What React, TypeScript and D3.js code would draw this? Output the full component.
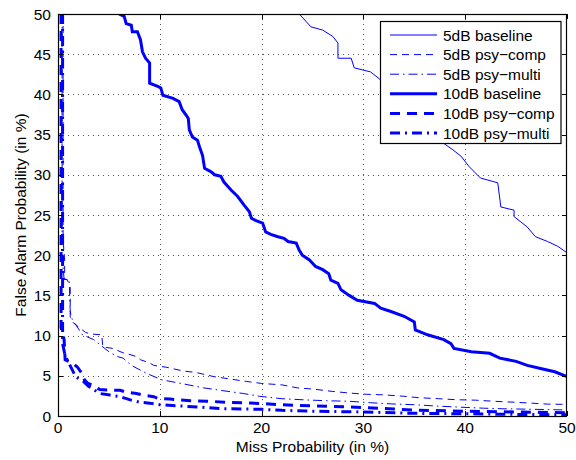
import React from "react";
import * as d3 from "d3";

// Axis ticks
const xTicks = [0, 10, 20, 30, 40, 50];
const yTicks = [0, 5, 10, 15, 20, 25, 30, 35, 40, 45, 50];

// 5dB baseline (miss %, false alarm %)
const base5Miss = [23.7, 24.85, 26.0, 27.0, 27.5, 27.5, 28.8, 29.1, 30.7, 32.0, 33.5, 35.0, 36.5, 37.9, 38.8, 39.6, 40.4, 41.5, 43.2, 43.5, 44.8, 44.8, 46.1, 46.9, 48.1, 49.1, 50.0];
const base5FA = [50.0, 48.4, 48.0, 47.2, 46.4, 44.5, 44.5, 43.3, 42.8, 41.5, 39.5, 37.5, 35.5, 33.9, 33.1, 32.3, 31.0, 29.6, 29.0, 26.0, 25.6, 24.8, 23.5, 22.3, 21.7, 21.1, 20.3];

// 5dB psy-comp
const comp5Miss = [0.5, 0.5, 0.65, 0.65, 0.9, 1.2, 1.2, 1.5, 2.2, 2.7, 3.2, 4.3, 4.4, 5.4, 6.3, 6.9, 7.7, 8.1, 9.0, 9.4, 10.7, 12.3, 13.6, 15.3, 16.9, 18.5, 20.0, 22.0, 23.5, 25.2, 27.0, 28.7, 30.3, 32.0, 34.0, 35.5, 37.4, 39.2, 41.0, 43.0, 44.7, 46.5, 48.2, 50.0];
const comp5FA = [50.0, 22.0, 19.4, 17.0, 17.0, 16.0, 12.3, 11.6, 10.9, 10.4, 10.2, 10.1, 8.6, 8.4, 7.9, 7.7, 7.4, 7.0, 6.6, 6.3, 6.05, 5.6, 5.4, 4.9, 4.6, 4.3, 4.05, 3.87, 3.5, 3.33, 3.05, 2.85, 2.7, 2.63, 2.45, 2.27, 2.15, 2.02, 1.97, 1.82, 1.72, 1.6, 1.47, 1.45];

// 5dB psy-multi
const multi5Miss = [0.4, 0.4, 0.6, 1.1, 1.2, 1.4, 2.4, 3.5, 4.2, 5.0, 5.8, 6.4, 7.2, 8.7, 10.2, 12.3, 14.3, 16.2, 18.2, 19.8, 22.0, 24.3, 26.4, 28.6, 30.7, 32.8, 35.0, 37.0, 39.5, 41.8, 43.7, 46.0, 48.0, 50.0];
const multi5FA = [50.0, 20.0, 17.0, 16.9, 13.0, 12.0, 10.1, 9.5, 8.8, 8.0, 7.4, 7.2, 6.3, 5.3, 4.5, 4.0, 3.5, 3.15, 2.8, 2.45, 2.15, 2.0, 1.9, 1.83, 1.65, 1.5, 1.4, 1.25, 1.1, 0.97, 0.9, 0.85, 0.8, 0.75];

// 10dB baseline
const base10Miss = [6.0, 6.5, 6.7, 7.2, 7.3, 7.8, 8.1, 8.3, 8.6, 9.0, 9.0, 9.8, 10.1, 10.3, 11.3, 11.9, 12.2, 12.6, 12.8, 12.9, 13.2, 13.7, 13.9, 14.2, 14.4, 15.0, 15.4, 16.0, 16.3, 17.0, 17.65, 18.3, 18.8, 19.0, 19.45, 20.1, 20.4, 20.9, 21.6, 22.2, 22.6, 23.4, 23.7, 24.0, 24.7, 25.3, 26.0, 26.6, 26.8, 27.5, 27.8, 28.6, 29.4, 31.1, 31.7, 32.7, 34.0, 35.0, 35.1, 36.3, 37.9, 38.6, 38.9, 40.6, 42.4, 43.4, 45.0, 46.1, 47.4, 48.8, 50.0];
const base10FA = [50.0, 49.7, 48.8, 48.6, 47.8, 47.8, 46.8, 45.3, 44.5, 43.9, 41.4, 41.0, 40.8, 39.9, 39.5, 39.1, 38.1, 37.4, 37.0, 35.6, 34.7, 34.3, 33.5, 32.4, 30.8, 30.4, 30.0, 29.8, 29.1, 28.1, 27.3, 26.2, 25.4, 24.6, 24.3, 24.0, 22.9, 22.6, 22.3, 22.1, 21.7, 21.5, 20.6, 20.0, 19.4, 18.6, 18.2, 17.7, 16.9, 16.5, 15.7, 15.0, 14.4, 14.0, 13.4, 13.0, 12.4, 11.7, 10.7, 10.1, 9.5, 9.0, 8.4, 8.0, 7.8, 7.2, 6.8, 6.3, 5.9, 5.5, 4.9];

// 10dB psy-comp
const comp10Miss = [0.3, 0.3, 0.6, 0.7, 1.4, 1.9, 2.4, 2.6, 2.9, 3.6, 4.1, 5.3, 6.1, 6.6, 7.7, 8.4, 9.4, 9.8, 11.0, 13.0, 14.6, 16.6, 18.2, 20.0, 22.0, 25.0, 28.0, 30.0, 33.0, 35.0, 40.0, 45.0, 50.0];
const comp10FA = [50.0, 11.0, 9.5, 7.0, 6.6, 6.1, 5.2, 4.5, 4.1, 3.7, 3.3, 3.2, 3.2, 3.0, 2.8, 2.6, 2.4, 2.2, 2.1, 1.9, 1.85, 1.7, 1.65, 1.55, 1.4, 1.25, 1.15, 1.05, 0.87, 0.72, 0.6, 0.5, 0.4];

// 10dB psy-multi
const multi10Miss = [0.45, 0.45, 0.7, 1.5, 1.7, 2.5, 3.0, 4.1, 5.1, 6.1, 7.1, 8.1, 9.0, 10.0, 12.0, 14.0, 16.2, 18.5, 20.0, 22.0, 25.0, 30.0, 33.0, 35.0, 40.0, 45.0, 50.0];
const multi10FA = [50.0, 9.0, 7.5, 5.5, 4.9, 4.3, 3.7, 2.8, 2.6, 2.4, 2.0, 1.7, 1.6, 1.4, 1.25, 1.1, 0.9, 0.87, 0.83, 0.7, 0.6, 0.5, 0.41, 0.33, 0.28, 0.2, 0.15];

const seriesLabels = ["5dB baseline", "5dB psy\u2212comp", "5dB psy\u2212multi", "10dB baseline", "10dB psy\u2212comp", "10dB psy\u2212multi"];

type Style = { width: number; dash: string };
const styles: Style[] = [
  { width: 1, dash: "" },
  { width: 1, dash: "7,5" },
  { width: 1, dash: "9,4,1.5,4" },
  { width: 3, dash: "" },
  { width: 3, dash: "10,7" },
  { width: 3, dash: "10,5,2,5" },
];

const seriesData: [number[], number[]][] = [
  [base5Miss, base5FA],
  [comp5Miss, comp5FA],
  [multi5Miss, multi5FA],
  [base10Miss, base10FA],
  [comp10Miss, comp10FA],
  [multi10Miss, multi10FA],
];

const W = 576;
const H = 460;
const left = 58;
const right = 567;
const top = 14;
const bottom = 416;
const font = "'Liberation Sans', Arial, Helvetica, sans-serif";
const fs = 15.5;
const blue = "#0000ff";

export default function App() {
  const x = d3.scaleLinear().domain([0, 50]).range([left, right]);
  const y = d3.scaleLinear().domain([0, 50]).range([bottom, top]);
  const line = d3
    .line<[number, number]>()
    .x((d) => x(d[0]))
    .y((d) => y(d[1]));

  const legX = 380.5;
  const legY = 21.5;
  const legW = 180.5;
  const legH = 122;
  const rowH = 19.6;

  return (
    <svg width={W} height={H} style={{ position: "absolute", left: 0, top: 0 }} fontFamily={font}>
      <rect x={0} y={0} width={W} height={H} fill="#fff" />
      <defs>
        <clipPath id="plotClip">
          <rect x={left} y={top} width={right - left} height={bottom - top} />
        </clipPath>
      </defs>

      {/* dotted grid */}
      <g stroke="#555" strokeWidth={1} strokeDasharray="1,4">
        {xTicks.slice(1, -1).map((t) => (
          <line key={"gx" + t} x1={Math.round(x(t)) + 0.5} x2={Math.round(x(t)) + 0.5} y1={top} y2={bottom} />
        ))}
        {yTicks.slice(1, -1).map((t) => (
          <line key={"gy" + t} x1={left} x2={right} y1={Math.round(y(t)) + 0.5} y2={Math.round(y(t)) + 0.5} />
        ))}
      </g>

      {/* curves */}
      <g clipPath="url(#plotClip)" fill="none" stroke={blue} strokeLinejoin="miter">
        {seriesData.map(([m, f], i) => (
          <path
            key={"s" + i}
            d={line(m.map((v, k) => [v, f[k]] as [number, number])) || ""}
            strokeWidth={styles[i].width}
            strokeDasharray={styles[i].dash || undefined}
          />
        ))}
      </g>

      {/* inward ticks on all four sides */}
      <g stroke="#000" strokeWidth={1}>
        {xTicks.map((t) => {
          const px = Math.round(x(t)) + 0.5;
          return (
            <g key={"tx" + t}>
              <line x1={px} x2={px} y1={bottom} y2={bottom - 5} />
              <line x1={px} x2={px} y1={top} y2={top + 5} />
            </g>
          );
        })}
        {yTicks.map((t) => {
          const py = Math.round(y(t)) + 0.5;
          return (
            <g key={"ty" + t}>
              <line x1={left} x2={left + 5} y1={py} y2={py} />
              <line x1={right} x2={right - 5} y1={py} y2={py} />
            </g>
          );
        })}
      </g>

      {/* axes box */}
      <rect x={left + 0.5} y={top + 0.5} width={right - left - 1} height={bottom - top} fill="none" stroke="#000" strokeWidth={1.2} />

      {/* tick labels */}
      <g fontSize={fs} fill="#000">
        {xTicks.map((t) => (
          <text key={"lx" + t} x={x(t)} y={433} textAnchor="middle">
            {t}
          </text>
        ))}
        {yTicks.map((t) => (
          <text key={"ly" + t} x={51} y={y(t) + 5.5} textAnchor="end">
            {t}
          </text>
        ))}
      </g>

      {/* axis titles */}
      <text x={(left + right) / 2} y={452} textAnchor="middle" fontSize={fs} fill="#000">
        Miss Probability (in %)
      </text>
      <text transform={`translate(26, ${(top + bottom) / 2}) rotate(-90)`} textAnchor="middle" fontSize={fs} fill="#000">
        False Alarm Probability (in %)
      </text>

      {/* legend */}
      <g>
        <rect x={legX} y={legY} width={legW} height={legH} fill="#fff" stroke="#000" strokeWidth={1.2} />
        {seriesLabels.map((lab, i) => {
          const cy = legY + 13.5 + i * rowH;
          return (
            <g key={"lg" + i}>
              <line
                x1={390}
                x2={437}
                y1={cy}
                y2={cy}
                stroke={blue}
                strokeWidth={styles[i].width}
                strokeDasharray={styles[i].dash || undefined}
              />
              <text x={443} y={cy + 5.5} fontSize={fs} fill="#000">
                {lab}
              </text>
            </g>
          );
        })}
      </g>
    </svg>
  );
}
